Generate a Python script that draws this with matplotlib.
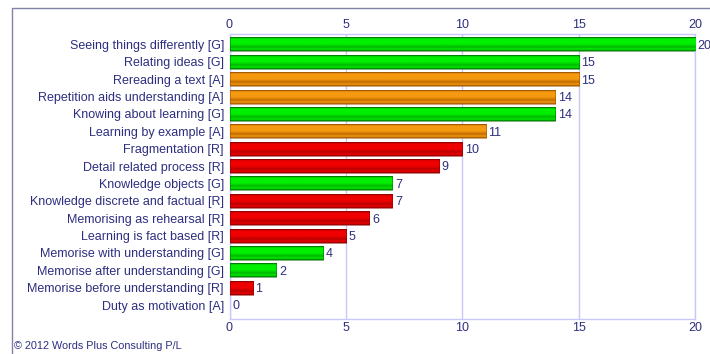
#!/usr/bin/env python3
"""Learning conceptions bar chart (Words Plus Consulting style)."""
import matplotlib
matplotlib.use("Agg")
import matplotlib.pyplot as plt
import numpy as np
from matplotlib.colors import LinearSegmentedColormap
from matplotlib.patches import Rectangle

labels = [
    "Seeing things differently [G]",
    "Relating ideas [G]",
    "Rereading a text [A]",
    "Repetition aids understanding [A]",
    "Knowing about learning [G]",
    "Learning by example [A]",
    "Fragmentation [R]",
    "Detail related process [R]",
    "Knowledge objects [G]",
    "Knowledge discrete and factual [R]",
    "Memorising as rehearsal [R]",
    "Learning is fact based [R]",
    "Memorise with understanding [G]",
    "Memorise after understanding [G]",
    "Memorise before understanding [R]",
    "Duty as motivation [A]",
]
values = [20, 15, 15, 14, 14, 11, 10, 9, 7, 7, 6, 5, 4, 2, 1, 0]
x_ticks = [0, 5, 10, 15, 20]

# (dark edge, bright face, lower band) per group tag
PALETTE = {
    "G": ("#007000", "#00f000", "#00b400"),
    "A": ("#9a5200", "#f59a10", "#c06a00"),
    "R": ("#8a0000", "#f00000", "#b80000"),
}
TEXT = "#2e2e80"
GRID = "#c8c8ff"


def gradient_cmap(tag):
    dark, bright, mid = PALETTE[tag]
    stops = [(0.0, dark), (0.12, bright), (0.5, bright), (0.72, mid), (0.88, bright), (1.0, dark)]
    return LinearSegmentedColormap.from_list(f"bar_{tag}", stops)


fig = plt.figure(figsize=(7.1, 3.54), dpi=100)
plt.rcParams["font.family"] = ["Liberation Sans", "DejaVu Sans"]

# outer frame
fig.patches.append(Rectangle((12 / 710, -0.1), 1.0, 1 - 8 / 354 + 0.1, transform=fig.transFigure,
                             fill=False, edgecolor="#8080a8", linewidth=1.0))

ax = fig.add_axes([229.5 / 710, 1 - 319 / 354, (695 - 229.5) / 710, (319 - 34) / 354])

grad = np.linspace(0, 1, 64).reshape(-1, 1)
h = 0.8
for i, (lab, v) in enumerate(zip(labels, values)):
    tag = lab[-2]
    if v > 0:
        ax.imshow(grad, cmap=gradient_cmap(tag), aspect="auto", interpolation="bilinear",
                  extent=(0, v, i + h / 2, i - h / 2), zorder=3)
        ax.add_patch(Rectangle((0, i - h / 2), v, h, fill=False,
                               edgecolor=PALETTE[tag][0], linewidth=0.6, alpha=0.6, zorder=4))
    ax.annotate(str(v), (v, i), xytext=(2, -1), textcoords="offset points",
                ha="left", va="center", fontsize=9, color=TEXT, zorder=5)

ax.set_xlim(0, 20)
ax.set_ylim(15.8, -0.6)
ax.set_xticks(x_ticks)
ax.set_yticks(range(len(labels)))
ax.set_yticklabels(labels)
ax.tick_params(axis="x", top=True, labeltop=True, length=0, pad=2.5, labelsize=9, colors=TEXT)
ax.tick_params(axis="y", length=0, pad=4, labelsize=9, colors=TEXT)
ax.grid(axis="x", color=GRID, linewidth=1.0, zorder=0)
ax.set_axisbelow(True)
for s in ax.spines.values():
    s.set_color(GRID)
    s.set_linewidth(1.0)

fig.text(14 / 710, 1 - 346 / 354, "\u00a9 2012 Words Plus Consulting P/L", fontsize=7.8,
         color=TEXT, ha="left", va="center")

fig.savefig("out.png", dpi=100)
